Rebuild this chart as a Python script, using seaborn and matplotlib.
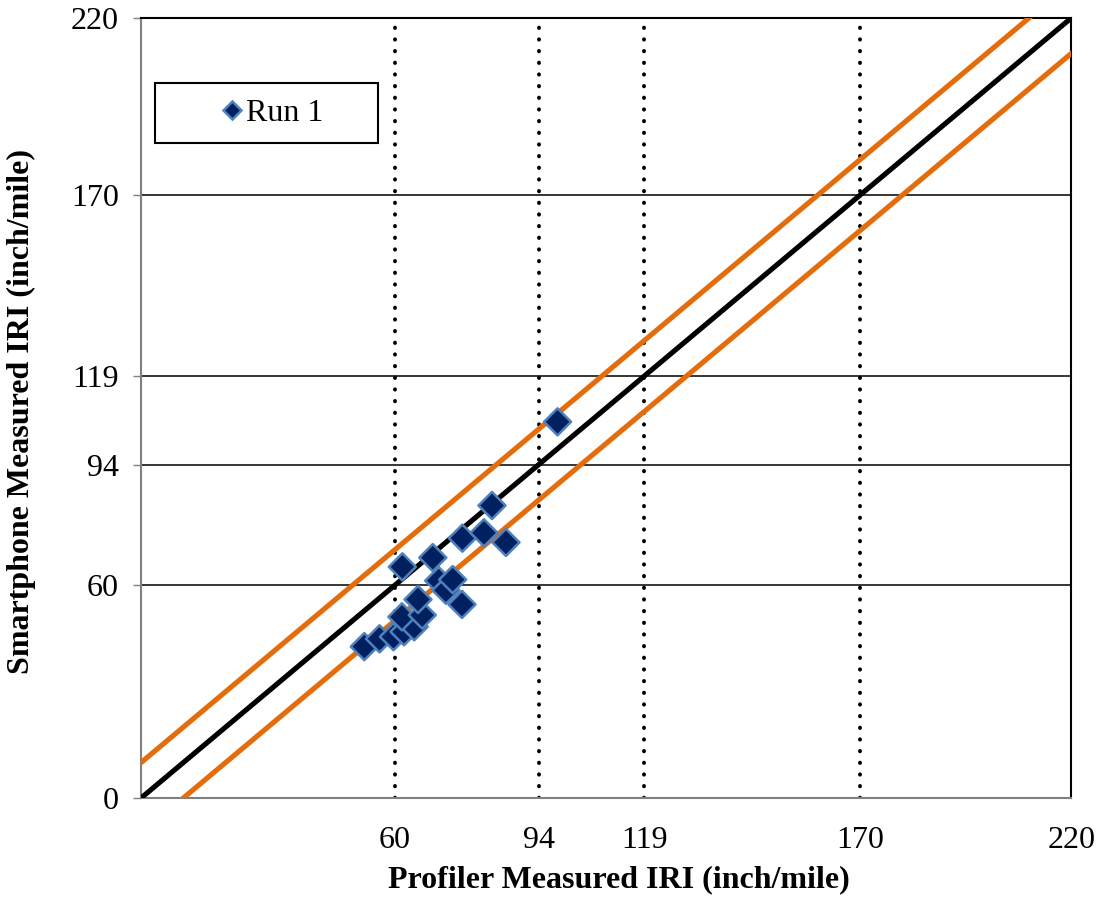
import numpy as np
import pandas as pd
import matplotlib
matplotlib.use("Agg")
import matplotlib.pyplot as plt
from matplotlib.patches import Rectangle
import seaborn as sns

# Paired IRI measurements (inch/mile)
profiler_iri = [52.8, 56.4, 59.7, 62.2, 64.6, 61.7, 66.5, 65.5, 61.8, 69.0,
                70.4, 72.1, 73.7, 75.9, 76.0, 81.1, 83.0, 86.3, 98.5]
smartphone_iri = [42.7, 44.9, 45.5, 46.9, 48.3, 51.1, 51.6, 56.0, 65.2, 67.8,
                  61.3, 58.6, 61.6, 54.6, 73.3, 74.8, 82.5, 72.1, 106.1]
series_name = "Run 1"

# IRI class thresholds and axis limits
thresholds = [60, 94, 119, 170]
axis_max = 220
x_ticks = [60, 94, 119, 170, 220]
y_ticks = [0, 60, 94, 119, 170, 220]
band = 10  # +/- tolerance around the equality line

df = pd.DataFrame({"Profiler": profiler_iri, "Smartphone": smartphone_iri,
                   "Series": series_name})

sns.set_style("white")
plt.rcParams["font.family"] = ["Liberation Serif", "DejaVu Serif"]
plt.rcParams["text.color"] = "black"
plt.rcParams["axes.labelcolor"] = "black"
plt.rcParams["xtick.color"] = "black"
plt.rcParams["ytick.color"] = "black"

fig = plt.figure(figsize=(11.02, 9.0), dpi=100)
ax = fig.add_axes([0.128, 0.1133, 0.8441, 0.8667])

# Equality line and tolerance band
diag = np.array([-20, axis_max + 20])
ax.plot(diag, diag, color="black", lw=3.7, zorder=3)
ax.plot(diag, diag + band, color="#E46C0A", lw=3.7, zorder=3)
ax.plot(diag, diag - band, color="#E46C0A", lw=3.7, zorder=3)

# Threshold reference lines
for t in thresholds:
    ax.axvline(t, color="black", lw=2.8, ls=(0, (0.1, 2.9)),
               dash_capstyle="round", zorder=2)
    ax.axhline(t, color="black", lw=1.1, zorder=1)

sns.scatterplot(data=df, x="Profiler", y="Smartphone", hue="Series",
                palette=["#002060"], marker="D", s=190,
                edgecolor="#4F81BD", linewidth=1.8, ax=ax, zorder=4)

ax.set_xlim(0, axis_max)
ax.set_ylim(0, axis_max)
ax.set_xticks(x_ticks)
ax.set_yticks(y_ticks)
ax.tick_params(axis="x", length=0, pad=20, labelsize=23)
ax.tick_params(axis="y", length=6, width=1, color="#808080", direction="out",
               pad=10, labelsize=23, left=True, labelcolor="black")

for side in ["left", "bottom"]:
    ax.spines[side].set_color("#808080")
    ax.spines[side].set_linewidth(1.5)
for side in ["top", "right"]:
    ax.spines[side].set_color("black")
    ax.spines[side].set_linewidth(1.5)

ax.set_xlabel("Profiler Measured IRI (inch/mile)", fontsize=23,
              fontweight="bold")
ax.set_ylabel("Smartphone Measured IRI (inch/mile)", fontsize=23,
              fontweight="bold")
ax.xaxis.set_label_coords(0.514, -0.086)
ax.yaxis.set_label_coords(-0.113, 0.496)

# Legend box drawn as its own frame, legend entry placed inside it
ax.add_patch(Rectangle((0.0151, 0.8397), 0.2397, 0.077,
                       transform=ax.transAxes, facecolor="white",
                       edgecolor="black", lw=1.5, zorder=5))
leg = ax.legend(loc="center left", bbox_to_anchor=(0.0871, 0.878),
                frameon=False, fontsize=23, borderpad=0,
                handlelength=0.6, handletextpad=0.15, markerscale=0.7,
                borderaxespad=0)
leg.set_zorder(6)

fig.savefig("out.png", dpi=100)
